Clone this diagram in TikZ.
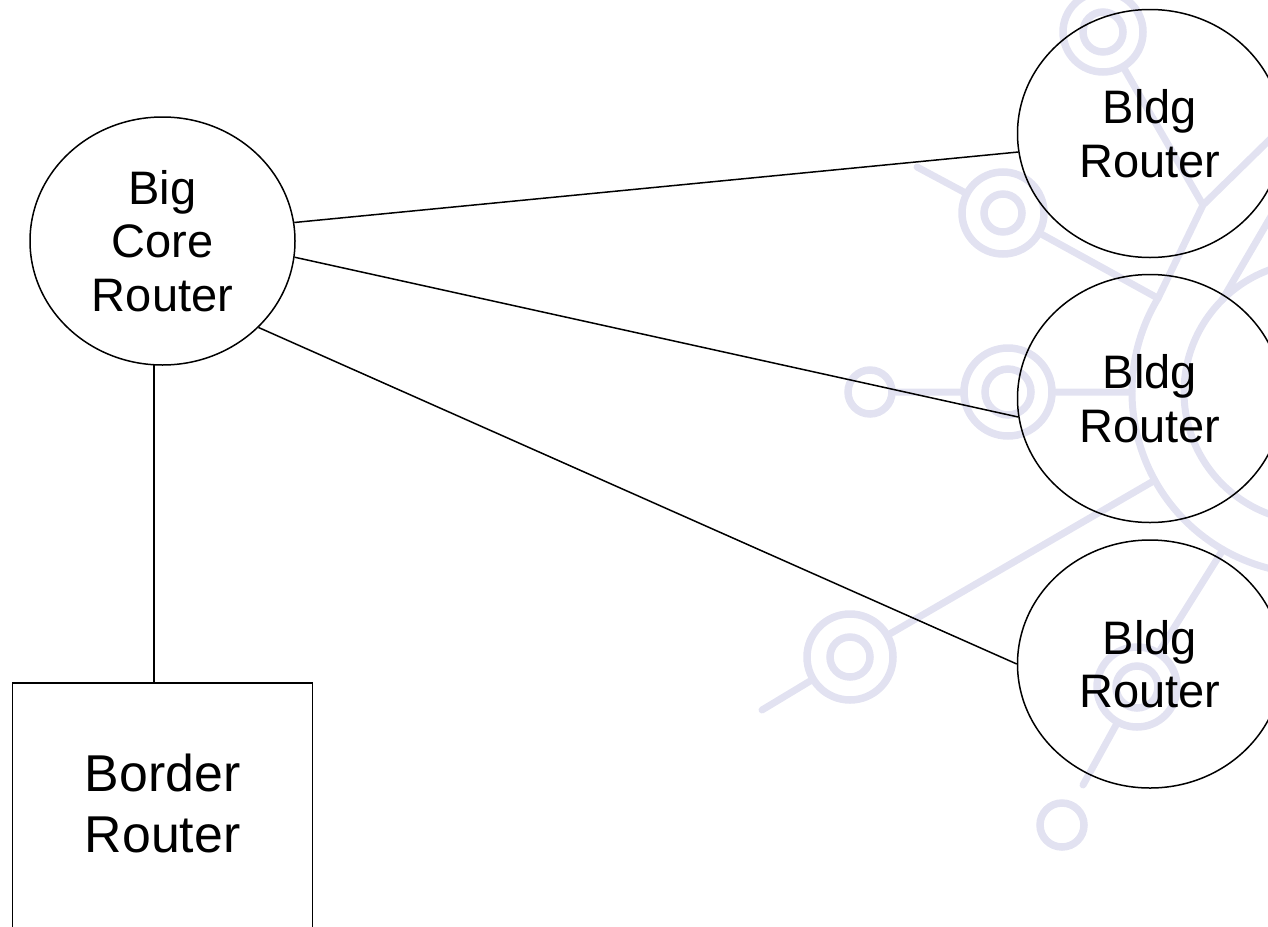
\documentclass[tikz,border=0pt]{standalone}
\usepackage{fontspec}
\setmainfont{Liberation Sans}
\usepackage{xcolor}
\usetikzlibrary{calc,shapes.geometric}
\definecolor{wmblue}{RGB}{226,226,241}

\begin{document}
\begin{tikzpicture}[%
    x=0.5pt,
    y=-0.5pt,
    line width=0.75pt,
    router/.style={%
      ellipse,
      draw,
      inner sep=0pt,
      minimum width=132.5pt,
      minimum height=124pt,
      align=center,
      font=\fontsize{23.5pt}{26.75pt}\selectfont
    },
    borderbox/.style={%
      rectangle,
      draw,
      minimum width=150pt,
      minimum height=150pt,
      anchor=north
    },
    ring/.style={%
      circle,
      draw=wmblue,
      line width=3.75pt,
      inner sep=0pt,
      minimum size=#1
    },
    spoke/.style={%
      draw=wmblue,
      line width=3.5pt,
      line cap=round
    }
  ]
    \useasboundingbox (0,0) rectangle (1268,926);
    \clip (0,0) rectangle (1268,926);

    % faint logo in the background
    \node[ring=40pt] (ringA)   at (1103,32)  {};
    \node[ring=20pt] (ringAin) at (1103,32)  {};
    \node[ring=41pt] (ringB)   at (1003,213) {};
    \node[ring=19pt] (ringBin) at (1003,213) {};
    \node[ring=44pt] (ringC)   at (1008,392) {};
    \node[ring=23pt] (ringCin) at (1008,392) {};
    \node[ring=22pt] (ringD)   at (870,392)  {};
    \node[ring=43pt] (ringE)   at (850,657)  {};
    \node[ring=20pt] (ringEin) at (850,657)  {};
    \node[ring=40pt] (ringF)   at (1137,687) {};
    \node[ring=21pt] (ringFin) at (1137,687) {};
    \node[ring=22pt] (ringG)   at (1062,825) {};

    \coordinate (hub)  at (1314,392);
    \coordinate (arcJ) at ($(hub)+(211:182)$);
    \coordinate (arcC) at ($(hub)+(180:182)$);
    \coordinate (arcE) at ($(hub)+(151:182)$);
    \coordinate (arcF) at ($(hub)+(120:182)$);
    \coordinate (arcL) at ($(hub)+(225:130)$);
    \coordinate (knee) at (1203,205);
    \coordinate (endB) at (917,167);
    \coordinate (endE) at (762,710);
    \coordinate (endF) at (1083,785);
    \coordinate (endK) at (1305,105);
    \coordinate (endL) at (1298,170);

    \draw[spoke] (hub) circle[radius=130];
    \draw[spoke] (arcJ) arc[start angle=211, end angle=80, radius=182];
    \path[spoke] (ringA) -- (knee) -- (arcJ)
                 (knee) -- (endK)
                 (ringB) -- (endB)
                 (ringB) -- (arcJ)
                 (ringD) -- (ringC)
                 (ringC) -- (arcC)
                 (ringE) -- (endE)
                 (ringE) -- (arcE)
                 (ringF) -- (arcF)
                 (ringF) -- (endF)
                 (arcL) -- (endL);

    % routers
    \node[router] (core)  at (162.5,241)  {Big\\Core\\Router};
    \node[router] (bldgA) at (1150,133.5) {Bldg\\Router};
    \node[router] (bldgB) at (1150,398.5) {Bldg\\Router};
    \node[router] (bldgC) at (1150,664)   {Bldg\\Router};
    \node[borderbox] (border) at (162.7,682) {};
    \node[align=center, font=\fontsize{25.9pt}{30.5pt}\selectfont]
         (bordertext) at (162.7,803) {Border\\Router};

    \path (core.8)   edge (bldgA.188)
          (core.-7)  edge (bldgB.188)
          (core.-42) edge (bldgC.180)
          (core.-94) edge (core.-94 |- border.north)
          ;
  \end{tikzpicture}
\end{document}
